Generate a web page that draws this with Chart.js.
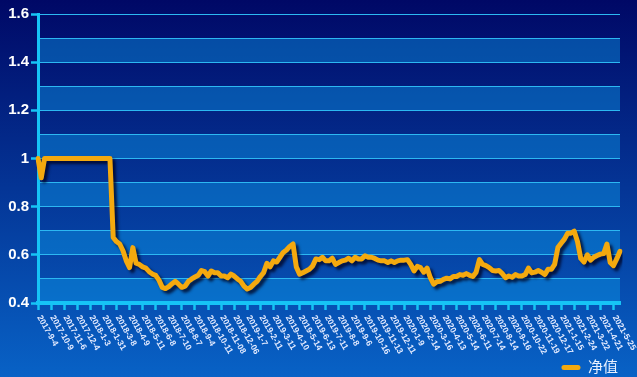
<!DOCTYPE html>
<html>
<head>
<meta charset="utf-8">
<script src="https://cdn.jsdelivr.net/npm/chart.js@4/dist/chart.umd.min.js"></script>
<style>
  html, body { margin: 0; padding: 0; background: #001070; }
  #wrap { width: 637px; height: 377px; position: relative; }
</style>
</head>
<body>
<div id="wrap"><canvas id="grafico"></canvas></div>
<script>
// Datas exibidas no eixo x (uma a cada 4 pontos)
const dateLabels = [
  '2017-9-4', '2017-10-9', '2017-11-6', '2017-12-4', '2018-1-3', '2018-1-31', '2018-3-8', '2018-4-9',
  '2018-5-11', '2018-6-8', '2018-7-10', '2018-8-7', '2018-9-4', '2018-10-11', '2018-11-08', '2018-12-06',
  '2019-1-7', '2019-2-11', '2019-3-11', '2019-4-10', '2019-5-14', '2019-6-13', '2019-7-11', '2019-8-8',
  '2019-9-6', '2019-10-16', '2019-11-13', '2019-12-11', '2020-1-9', '2020-2-14', '2020-3-16', '2020-4-13',
  '2020-5-14', '2020-6-11', '2020-7-14', '2020-8-14', '2020-9-16', '2020-10-22', '2020-11-19', '2020-12-17',
  '2021-1-15', '2021-2-24', '2021-3-22', '2021-4-21', '2021-5-25'
];
const pointsPerLabel = 4;

// 净值
const netValues = [
  1.0, 0.92, 1.0, 1.0, 1.0, 1.0, 1.0, 1.0, 1.0, 1.0,
  1.0, 1.0, 1.0, 1.0, 1.0, 1.0, 1.0, 1.0, 1.0, 1.0,
  1.0, 1.0, 1.0, 0.672, 0.655, 0.645, 0.617, 0.575, 0.547, 0.63,
  0.565, 0.56, 0.55, 0.545, 0.53, 0.52, 0.515, 0.495, 0.465, 0.46,
  0.468, 0.48, 0.49, 0.478, 0.465, 0.47, 0.49, 0.5, 0.508, 0.515,
  0.535, 0.53, 0.512, 0.533, 0.526, 0.526, 0.512, 0.512, 0.505, 0.52,
  0.512, 0.5, 0.49, 0.47, 0.458, 0.464, 0.478, 0.49, 0.51, 0.526,
  0.565, 0.55, 0.575, 0.57, 0.59, 0.61, 0.62, 0.635, 0.645, 0.55,
  0.52, 0.526, 0.533, 0.54, 0.554, 0.583, 0.58, 0.59, 0.575, 0.575,
  0.586, 0.56, 0.568, 0.575, 0.578, 0.586, 0.575, 0.59, 0.583, 0.583,
  0.596, 0.59, 0.59, 0.585, 0.578, 0.575, 0.575, 0.568, 0.575, 0.568,
  0.575, 0.578, 0.578, 0.58, 0.56, 0.533, 0.552, 0.547, 0.528, 0.545,
  0.505, 0.478, 0.488, 0.49, 0.498, 0.503, 0.5, 0.51, 0.51, 0.518,
  0.515, 0.522, 0.515, 0.51, 0.528, 0.58, 0.56, 0.555, 0.547, 0.535,
  0.533, 0.535, 0.522, 0.505, 0.512, 0.507, 0.518, 0.512, 0.512, 0.518,
  0.545, 0.525, 0.528, 0.535, 0.528, 0.518, 0.54, 0.54, 0.56, 0.63,
  0.648, 0.665, 0.69, 0.69, 0.698, 0.655, 0.585, 0.57, 0.6, 0.578,
  0.59, 0.597, 0.603, 0.605, 0.645, 0.568, 0.555, 0.583, 0.615
];

const yMin = 0.4, yMax = 1.6, yStep = 0.1;

const corLinha = '#f4a90e';
const corEixo = '#16c4f6';
const corGrade = '#2cb8f2';
const fonte = '"Liberation Sans", Arial, "Noto Sans CJK SC", sans-serif';

// labels da categoria: só a cada 4 pontos tem data
const labels = netValues.map((v, i) => i % pointsPerLabel === 0 ? (dateLabels[i / pointsPerLabel] || '') : '');

// Fundo em degradê + faixas alternadas
const fundoPlugin = {
  id: 'fundo',
  beforeDraw(chart) {
    const { ctx, width, height, chartArea } = chart;
    const g = ctx.createLinearGradient(0, 0, 0, height);
    g.addColorStop(0, '#000866');
    g.addColorStop(1, '#0862c6');
    ctx.save();
    ctx.fillStyle = g;
    ctx.fillRect(0, 0, width, height);
    const y = chart.scales.y;
    ctx.fillStyle = 'rgba(10, 150, 230, 0.45)';
    for (let k = 0; k < Math.round((yMax - yMin) / yStep); k++) {
      if (k % 2 !== 0) continue;
      const lo = yMin + k * yStep, hi = lo + yStep;
      const top = y.getPixelForValue(hi), bot = y.getPixelForValue(lo);
      ctx.fillRect(chartArea.left, top, chartArea.right - chartArea.left, bot - top);
    }
    ctx.restore();
  }
};

// Sombra da linha
const sombraPlugin = {
  id: 'sombra',
  beforeDatasetDraw(chart) {
    const ctx = chart.ctx;
    ctx.save();
    ctx.shadowColor = 'rgba(0, 0, 30, 0.75)';
    ctx.shadowBlur = 3;
    ctx.shadowOffsetX = 3;
    ctx.shadowOffsetY = 3;
  },
  afterDatasetDraw(chart) {
    chart.ctx.restore();
  }
};

// Rótulos do eixo x inclinados para baixo/direita
const rotulosXPlugin = {
  id: 'rotulosX',
  afterDraw(chart) {
    const { ctx } = chart;
    const x = chart.scales.x;
    ctx.save();
    ctx.fillStyle = '#e2eaff';
    ctx.font = 'bold 8.5px ' + fonte;
    ctx.textAlign = 'left';
    ctx.textBaseline = 'middle';
    labels.forEach((lab, i) => {
      if (!lab) return;
      const px = x.getPixelForValue(i);
      ctx.save();
      ctx.translate(px + 1, x.top + 13);
      ctx.rotate(60 * Math.PI / 180);
      ctx.fillText(lab, 0, 0);
      ctx.restore();
    });
    ctx.restore();
  }
};

const ehPar = v => Math.round(v * 10) % 2 === 0;

new Chart(document.getElementById('grafico').getContext('2d'), {
  type: 'line',
  data: {
    labels,
    datasets: [{
      label: '净值',
      data: netValues,
      borderColor: corLinha,
      backgroundColor: corLinha,
      borderWidth: 5,
      borderJoinStyle: 'round',
      borderCapStyle: 'round',
      pointRadius: 0,
      tension: 0,
      fill: false
    }]
  },
  options: {
    responsive: true,
    maintainAspectRatio: false,
    animation: false,
    layout: { padding: { top: 14, right: 17, bottom: -8, left: 0 } },
    plugins: {
      tooltip: { enabled: false },
      legend: {
        position: 'bottom',
        align: 'end',
        labels: {
          padding: 2,
          boxWidth: 19,
          boxHeight: 5,
          useBorderRadius: true,
          borderRadius: 2.5,
          font: { family: fonte, size: 15 },
          generateLabels: () => [{
            text: '净值',
            fillStyle: corLinha,
            strokeStyle: corLinha,
            lineWidth: 0,
            fontColor: '#e8f0ff',
            borderRadius: 2.5,
            datasetIndex: 0
          }]
        }
      }
    },
    scales: {
      x: {
        type: 'category',
        offset: false,
        afterFit(scale) { scale.height = 55; },
        border: { display: true, color: corEixo, width: 4 },
        grid: {
          drawOnChartArea: false,
          drawTicks: true,
          tickLength: 7,
          tickWidth: 2.5,
          tickColor: c => c.index % pointsPerLabel === 0 ? corEixo : 'rgba(0,0,0,0)'
        },
        ticks: { display: false, autoSkip: false }
      },
      y: {
        min: yMin,
        max: yMax,
        afterFit(scale) { scale.width = 38; },
        border: { display: true, color: corEixo, width: 3 },
        grid: {
          color: corGrade,
          lineWidth: 1,
          drawTicks: true,
          tickLength: 7,
          tickWidth: 2.5,
          tickColor: c => c.tick && ehPar(c.tick.value) ? corEixo : 'rgba(0,0,0,0)'
        },
        ticks: {
          stepSize: yStep,
          autoSkip: false,
          padding: 2,
          color: '#ffffff',
          font: { family: fonte, size: 15, weight: 'bold' },
          callback: v => ehPar(v) ? String(Number(v.toFixed(1))) : ''
        }
      }
    }
  },
  plugins: [fundoPlugin, sombraPlugin, rotulosXPlugin]
});
</script>
</body>
</html>
